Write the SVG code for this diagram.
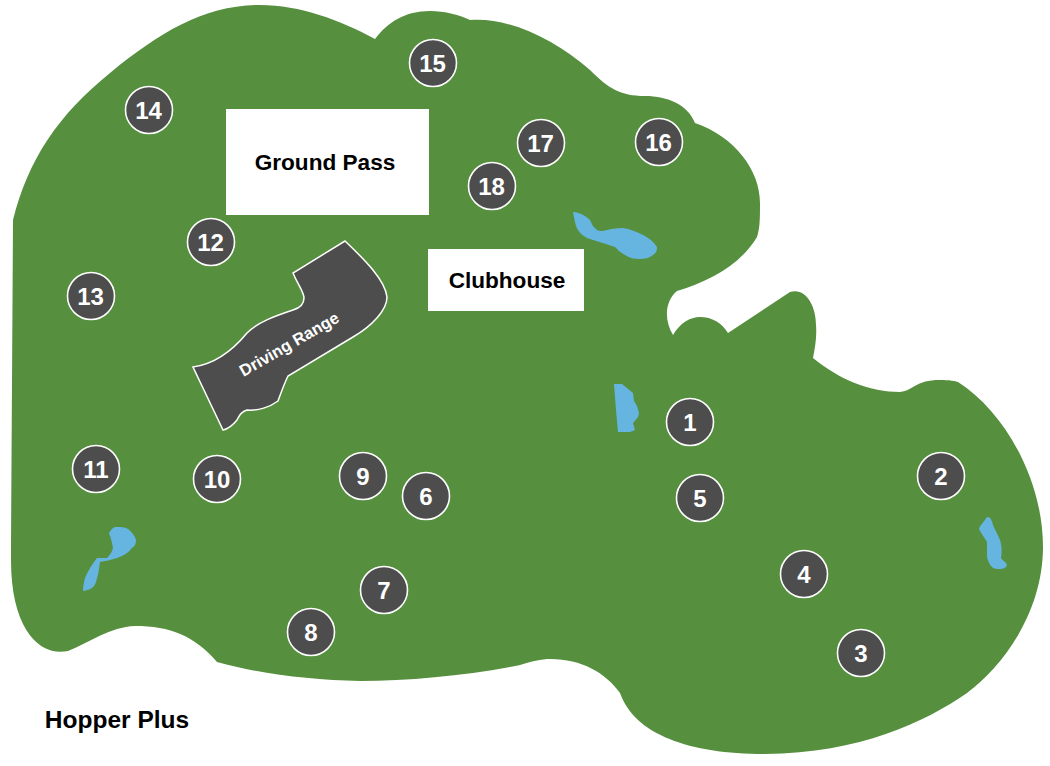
<svg xmlns="http://www.w3.org/2000/svg" width="1050" height="766" viewBox="0 0 1050 766">
<style>
text{font-family:"Liberation Sans",Arial,sans-serif;font-weight:700}
.m circle{fill:#4d4d4d;stroke:#fff;stroke-width:1.6}
.m text{fill:#fff;font-size:24px;text-anchor:middle}
.lbl{fill:#000;font-size:22.6px;text-anchor:middle}
.w{fill:#65b5e0}
</style>
<rect width="1050" height="766" fill="#fff"/>
<path id="course" fill="#56903f" d="M13 220C28 160 58 115 110 73C160 32 205 5 260 5C300 5 340 20 375 39C388 22 405 11 430 11C445 11 460 15 470 20C510 17 555 40 590 70C608 88 620 96 645 96C668 96 688 105 695 123C735 137 760 170 760 203C760 218 760 228 757 237C740 265 710 281 677 291C666 300 663 318 673 335C680 323 690 317 700 317C712 317 722 323 728 333L790 292C805 287 816 305 816 325C817 337 815 347 813 358C840 380 870 392 900 392C915 390 915 380 940 380C950 380 955 381 958 382C1005 412 1043 480 1043 547C1043 610 1005 665 967 693C925 722 860 753 765 754C690 754 635 735 620 693C605 672 580 658 547 659C537 660 529 662 520 665C470 675 410 681 360 681C310 680 260 674 217 662C195 636 170 626 135 626C110 627 90 642 68 651C40 657 11 630 11 560L11 543Z"/>
<g class="water">
<path class="w" d="M573 212C579 212 586 216 590 220C592 224 593 227 595 228C597 231 600 231 603 231C610 229 616 228 623 228C630 229 637 232 643 235C649 238 654 242 657 247C657 251 656 253 653 255C649 258 645 259 640 259C634 259 630 258 625 255C621 253 618 250 615 247C606 244 596 241 587 238C583 236 580 233 578 230C576 227 575 223 573 212Z"/>
<path class="w" d="M614 384L622 384L633 393L634 401L637 406L639 413L638 417L633 423L635 430L630 432L618 432L616 410Z"/>
<path class="w" d="M109 533C111 530 112 528 115 527C120 527 125 527 128 529C132 532 135 536 136 540C136 544 135 546 132 548C128 553 123 556 117 558C111 560 105 561 100 562C99 567 99 573 97 578C96 583 95 585 93 587C90 590 87 590 83 591C83 586 84 582 85 578C88 571 92 564 97 558L107 558C110 555 112 552 113 548C112 543 111 538 109 533Z"/>
<path class="w" d="M988 517C990 517 992 520 993 525C995 530 998 535 1000 540C1002 546 1002 552 1001 558C1003 561 1006 562 1007 565C1006 568 1003 569 1000 569C997 569 994 569 992 567C989 564 988 561 987 557C987 552 987 547 987 542C984 537 981 533 979 529C980 525 983 523 985 520C986 518 987 517 988 517Z"/>
</g>
<g id="ground-pass"><rect x="226" y="109" width="203" height="106" fill="#fff"/><text class="lbl" x="325" y="170">Ground Pass</text></g>
<g id="clubhouse"><rect x="428" y="249" width="156" height="62" fill="#fff"/><text class="lbl" x="507" y="288">Clubhouse</text></g>
<g id="driving-range">
<path fill="#4d4d4d" stroke="#fff" stroke-width="1.5" d="M345 241C365 260 385 280 387 297C387 310 372 326 353 337L288 376C284 384 281 393 278 401C270 407 258 411 247 410C240 412 238 418 237 420C233 425 228 429 223 430L193 367C215 364 233 350 247 333C258 322 275 316 293 310C300 308 304 304 304 298C304 292 298 285 293 273Z"/>
<text x="292" y="349" transform="rotate(-30 292 349)" fill="#fff" font-size="16.500" text-anchor="middle">Driving Range</text>
</g>
<g class="m">
<g id="hole-1"><circle cx="690" cy="422" r="23.5"/><text x="690" y="431">1</text></g>
<g id="hole-2"><circle cx="941" cy="476" r="23.5"/><text x="941" y="485">2</text></g>
<g id="hole-3"><circle cx="861" cy="653" r="23.5"/><text x="861" y="662">3</text></g>
<g id="hole-4"><circle cx="804" cy="574" r="23.5"/><text x="804" y="583">4</text></g>
<g id="hole-5"><circle cx="700" cy="498" r="23.5"/><text x="700" y="507">5</text></g>
<g id="hole-6"><circle cx="426" cy="496" r="23.5"/><text x="426" y="505">6</text></g>
<g id="hole-7"><circle cx="384" cy="590" r="23.5"/><text x="384" y="599">7</text></g>
<g id="hole-8"><circle cx="311" cy="632" r="23.5"/><text x="311" y="641">8</text></g>
<g id="hole-9"><circle cx="363" cy="476" r="23.5"/><text x="363" y="485">9</text></g>
<g id="hole-10"><circle cx="217" cy="479" r="23.5"/><text x="217" y="488">10</text></g>
<g id="hole-11"><circle cx="96" cy="469" r="23.5"/><text x="96" y="478">11</text></g>
<g id="hole-12"><circle cx="211" cy="242" r="23.5"/><text x="210.500" y="251">12</text></g>
<g id="hole-13"><circle cx="91" cy="296" r="23.5"/><text x="90.500" y="305">13</text></g>
<g id="hole-14"><circle cx="149" cy="110" r="23.5"/><text x="148.500" y="119">14</text></g>
<g id="hole-15"><circle cx="433" cy="63" r="23.5"/><text x="432.500" y="72">15</text></g>
<g id="hole-16"><circle cx="659" cy="142" r="23.5"/><text x="658.500" y="151">16</text></g>
<g id="hole-17"><circle cx="541" cy="143" r="23.5"/><text x="540.500" y="152">17</text></g>
<g id="hole-18"><circle cx="492" cy="186" r="23.5"/><text x="491.500" y="195">18</text></g>
</g>
<text x="117" y="728" font-size="24.500" text-anchor="middle" fill="#000">Hopper Plus</text>
<g id="connectors"/>
</svg>
